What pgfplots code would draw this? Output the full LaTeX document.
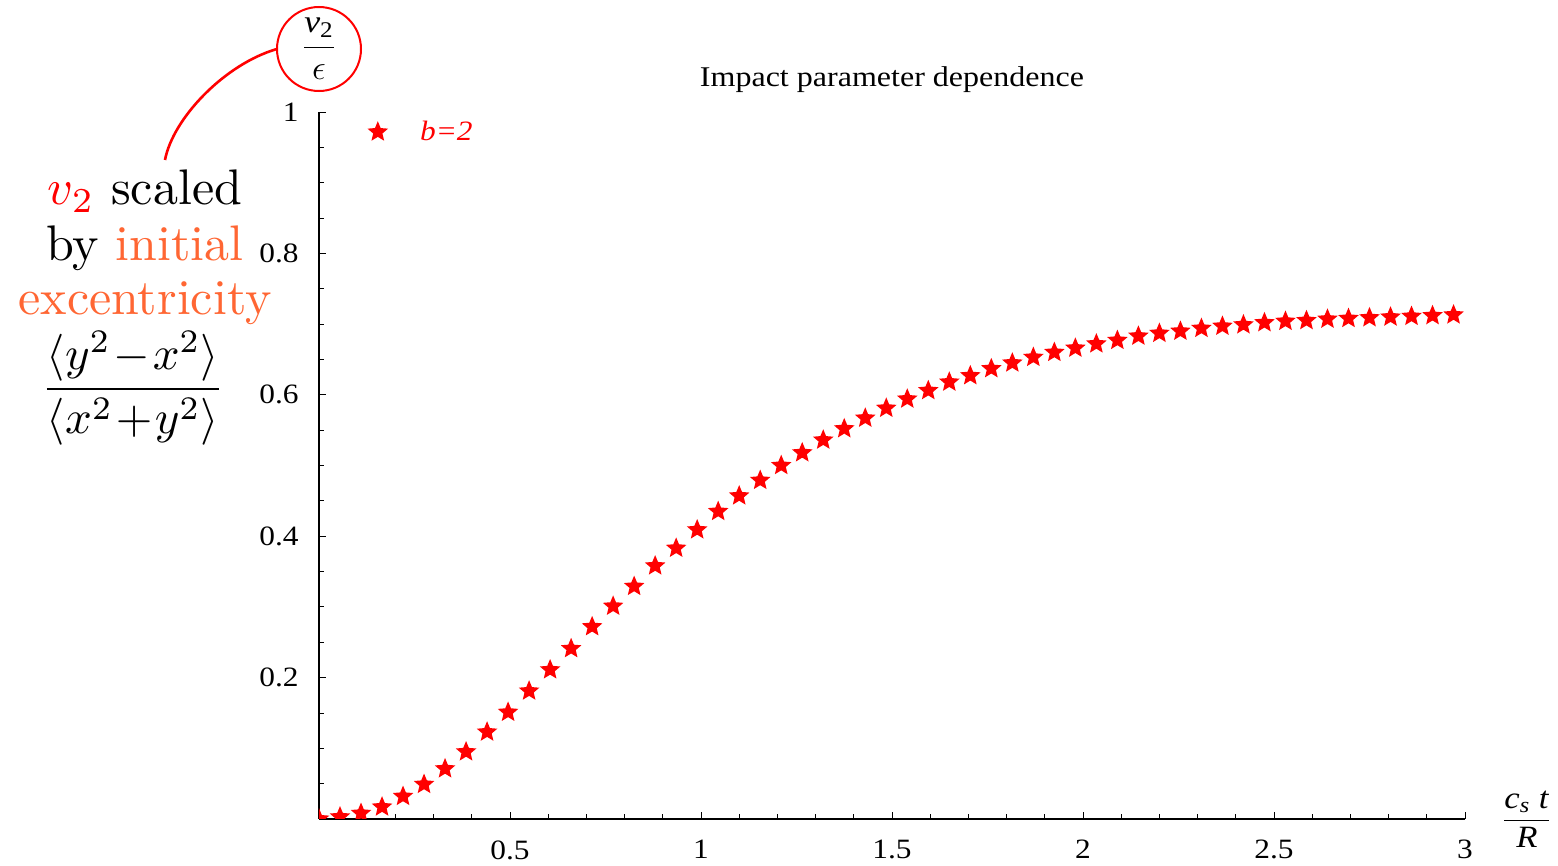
\documentclass[border=0pt]{standalone}
\usepackage{graphicx}
\usepackage{pgfplots}
\pgfplotsset{compat=1.18}
\usepackage{amsmath}
\usepackage{fontspec}
\newfontfamily\tnr[FakeStretch=1.12]{Liberation Serif}
\definecolor{orng}{RGB}{255,102,51}

\pgfdeclareplotmark{fstar}{%
  \pgfpathmoveto{\pgfpointpolar{90}{\pgfplotmarksize}}%
  \pgfpathlineto{\pgfpointpolar{126}{0.45*\pgfplotmarksize}}%
  \pgfpathlineto{\pgfpointpolar{162}{\pgfplotmarksize}}%
  \pgfpathlineto{\pgfpointpolar{198}{0.45*\pgfplotmarksize}}%
  \pgfpathlineto{\pgfpointpolar{234}{\pgfplotmarksize}}%
  \pgfpathlineto{\pgfpointpolar{270}{0.45*\pgfplotmarksize}}%
  \pgfpathlineto{\pgfpointpolar{306}{\pgfplotmarksize}}%
  \pgfpathlineto{\pgfpointpolar{342}{0.45*\pgfplotmarksize}}%
  \pgfpathlineto{\pgfpointpolar{18}{\pgfplotmarksize}}%
  \pgfpathlineto{\pgfpointpolar{54}{0.45*\pgfplotmarksize}}%
  \pgfpathclose
  \pgfusepathqfill
}

\pgfplotstableread{
x y
0 0.000
0.055 0.003
0.11 0.008
0.165 0.017
0.22 0.032
0.275 0.049
0.33 0.071
0.385 0.095
0.44 0.123
0.495 0.151
0.55 0.181
0.605 0.211
0.66 0.241
0.715 0.272
0.77 0.301
0.825 0.329
0.88 0.358
0.935 0.383
0.99 0.409
1.045 0.435
1.1 0.457
1.155 0.479
1.21 0.500
1.265 0.518
1.32 0.536
1.375 0.552
1.43 0.567
1.485 0.581
1.54 0.594
1.595 0.606
1.65 0.618
1.705 0.627
1.76 0.637
1.815 0.645
1.87 0.653
1.925 0.660
1.98 0.666
2.035 0.672
2.09 0.677
2.145 0.683
2.2 0.687
2.255 0.690
2.31 0.694
2.365 0.697
2.42 0.699
2.475 0.702
2.53 0.704
2.585 0.705
2.64 0.707
2.695 0.708
2.75 0.709
2.805 0.710
2.86 0.711
2.915 0.712
2.97 0.713
}\datatab

\begin{document}
\begin{tikzpicture}
\path[use as bounding box] (-159.5pt,-23.5pt) rectangle (619.5pt,409.5pt);
\begin{axis}[
  scale only axis, width=573pt, height=353.5pt,
  xmin=0, xmax=3, ymin=0, ymax=1,
  axis x line*=bottom, axis y line*=left,
  axis line style={-, black, line width=0.6pt},
  tick align=inside,
  xtick={0.5,1,...,3}, ytick={0.2,0.4,0.6,0.8,1},
  minor xtick={0.1,0.2,...,2.95}, minor ytick={0.05,0.1,...,0.96},
  major tick length=3.5pt, minor tick length=2.4pt,
  every tick/.style={black, line width=0.4pt},
  /pgf/number format/assume math mode=true,
  ticklabel style={font=\tnr\fontsize{14}{16}\selectfont},
  xticklabel style={anchor=north, inner sep=0pt, yshift=-10.5pt},
  yticklabel style={anchor=east, inner sep=0pt, xshift=-10pt},
  clip marker paths=true,
  title={Impact parameter dependence},
  every axis title/.style={at={(axis description cs:0.5,1.0365)}, anchor=base, font=\tnr\fontsize{14.3}{16}\selectfont},
  xlabel={$\dfrac{\text{\textit{c}\textsubscript{\textit{s}} \textit{t}}}{\text{\textit{R}}}$},
  every axis x label/.style={at={(axis description cs:1.054,0)}, anchor=center, inner sep=0pt, font=\tnr\fontsize{15.5}{17}\selectfont},
  ylabel={$\dfrac{\text{\textit{v}\textsubscript{2}}}{\epsilon}$},
  every axis y label/.style={at={(axis description cs:0,1.0891)}, anchor=center, circle, draw=red, line width=1pt, minimum size=42pt, inner sep=0pt, font=\tnr\fontsize{16}{18}\selectfont},
  legend style={draw=none, fill=none, at={(axis description cs:0.042,0.9717)}, anchor=west, text=red, font=\tnr\fontsize{14}{16}\selectfont, inner sep=0pt},
]
\addplot[only marks, mark=fstar, mark size=5.4pt, color=red] table[x=x, y=y] {\datatab};
\addlegendentry{\hspace{14pt}\textit{b=2}}
\end{axis}
\draw[red, line width=1.3pt] (-21pt,385pt) .. controls (-47pt,377.5pt) and (-73pt,350.5pt) .. (-77pt,329.5pt);
\node[anchor=base, inner sep=0pt] at (-87pt,307pt) {\scalebox{2.5}{\fontsize{10}{12}\selectfont\textcolor{red}{$v_2$} scaled}};
\node[anchor=base, inner sep=0pt] at (-87pt,279pt) {\scalebox{2.5}{\fontsize{10}{12}\selectfont by \textcolor{orng}{initial}}};
\node[anchor=base, inner sep=0pt, text=orng] at (-87pt,252pt) {\scalebox{2.5}{\fontsize{10}{12}\selectfont excentricity}};
\node[anchor=center, inner sep=0pt] at (-93pt,215.5pt) {\scalebox{2.35}{\fontsize{10}{12}\selectfont$\dfrac{\langle y^2\!-\!x^2\rangle}{\langle x^2\!+\!y^2\rangle}$}};
\end{tikzpicture}
\end{document}
